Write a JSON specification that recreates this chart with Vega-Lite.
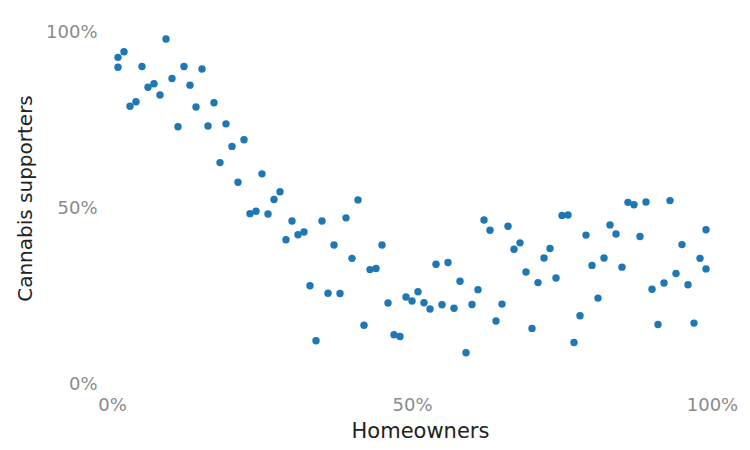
{
  "$schema": "https://vega.github.io/schema/vega-lite/v6.json",
  "width": 600,
  "height": 352,
  "autosize": "none",
  "padding": {"left": 112, "top": 32, "right": 38, "bottom": 66},
  "background": "white",
  "config": {
    "view": {"stroke": null},
    "font": "DejaVu Sans",
    "axis": {
      "grid": false,
      "domain": false,
      "ticks": false,
      "labelFlush": false,
      "labelFont": "DejaVu Sans",
      "labelFontSize": 18,
      "labelColor": "#8a8a8a",
      "titleFont": "DejaVu Sans",
      "titleFontSize": 20,
      "titleFontWeight": "normal",
      "titleColor": "#222222"
    }
  },
  "data": {
    "values": [
      {"homeowners": 0.01, "supporters": 0.928},
      {"homeowners": 0.01, "supporters": 0.900},
      {"homeowners": 0.02, "supporters": 0.944},
      {"homeowners": 0.03, "supporters": 0.789},
      {"homeowners": 0.04, "supporters": 0.802},
      {"homeowners": 0.05, "supporters": 0.902},
      {"homeowners": 0.06, "supporters": 0.843},
      {"homeowners": 0.07, "supporters": 0.853},
      {"homeowners": 0.08, "supporters": 0.821},
      {"homeowners": 0.09, "supporters": 0.980},
      {"homeowners": 0.10, "supporters": 0.868},
      {"homeowners": 0.11, "supporters": 0.731},
      {"homeowners": 0.12, "supporters": 0.902},
      {"homeowners": 0.13, "supporters": 0.849},
      {"homeowners": 0.14, "supporters": 0.787},
      {"homeowners": 0.15, "supporters": 0.895},
      {"homeowners": 0.16, "supporters": 0.733},
      {"homeowners": 0.17, "supporters": 0.799},
      {"homeowners": 0.18, "supporters": 0.629},
      {"homeowners": 0.19, "supporters": 0.739},
      {"homeowners": 0.20, "supporters": 0.675},
      {"homeowners": 0.21, "supporters": 0.573},
      {"homeowners": 0.22, "supporters": 0.694},
      {"homeowners": 0.23, "supporters": 0.484},
      {"homeowners": 0.24, "supporters": 0.491},
      {"homeowners": 0.25, "supporters": 0.597},
      {"homeowners": 0.26, "supporters": 0.483},
      {"homeowners": 0.27, "supporters": 0.524},
      {"homeowners": 0.28, "supporters": 0.546},
      {"homeowners": 0.29, "supporters": 0.410},
      {"homeowners": 0.30, "supporters": 0.463},
      {"homeowners": 0.31, "supporters": 0.424},
      {"homeowners": 0.32, "supporters": 0.432},
      {"homeowners": 0.33, "supporters": 0.279},
      {"homeowners": 0.34, "supporters": 0.123},
      {"homeowners": 0.35, "supporters": 0.463},
      {"homeowners": 0.36, "supporters": 0.258},
      {"homeowners": 0.37, "supporters": 0.395},
      {"homeowners": 0.38, "supporters": 0.257},
      {"homeowners": 0.39, "supporters": 0.472},
      {"homeowners": 0.40, "supporters": 0.357},
      {"homeowners": 0.41, "supporters": 0.523},
      {"homeowners": 0.42, "supporters": 0.167},
      {"homeowners": 0.43, "supporters": 0.325},
      {"homeowners": 0.44, "supporters": 0.328},
      {"homeowners": 0.45, "supporters": 0.395},
      {"homeowners": 0.46, "supporters": 0.230},
      {"homeowners": 0.47, "supporters": 0.140},
      {"homeowners": 0.48, "supporters": 0.135},
      {"homeowners": 0.49, "supporters": 0.247},
      {"homeowners": 0.50, "supporters": 0.236},
      {"homeowners": 0.51, "supporters": 0.262},
      {"homeowners": 0.52, "supporters": 0.231},
      {"homeowners": 0.53, "supporters": 0.213},
      {"homeowners": 0.54, "supporters": 0.340},
      {"homeowners": 0.55, "supporters": 0.225},
      {"homeowners": 0.56, "supporters": 0.345},
      {"homeowners": 0.57, "supporters": 0.215},
      {"homeowners": 0.58, "supporters": 0.292},
      {"homeowners": 0.59, "supporters": 0.089},
      {"homeowners": 0.60, "supporters": 0.226},
      {"homeowners": 0.61, "supporters": 0.268},
      {"homeowners": 0.62, "supporters": 0.466},
      {"homeowners": 0.63, "supporters": 0.437},
      {"homeowners": 0.64, "supporters": 0.179},
      {"homeowners": 0.65, "supporters": 0.227},
      {"homeowners": 0.66, "supporters": 0.448},
      {"homeowners": 0.67, "supporters": 0.383},
      {"homeowners": 0.68, "supporters": 0.401},
      {"homeowners": 0.69, "supporters": 0.318},
      {"homeowners": 0.70, "supporters": 0.158},
      {"homeowners": 0.71, "supporters": 0.288},
      {"homeowners": 0.72, "supporters": 0.358},
      {"homeowners": 0.73, "supporters": 0.385},
      {"homeowners": 0.74, "supporters": 0.301},
      {"homeowners": 0.75, "supporters": 0.479},
      {"homeowners": 0.76, "supporters": 0.480},
      {"homeowners": 0.77, "supporters": 0.118},
      {"homeowners": 0.78, "supporters": 0.194},
      {"homeowners": 0.79, "supporters": 0.423},
      {"homeowners": 0.80, "supporters": 0.337},
      {"homeowners": 0.81, "supporters": 0.244},
      {"homeowners": 0.82, "supporters": 0.358},
      {"homeowners": 0.83, "supporters": 0.452},
      {"homeowners": 0.84, "supporters": 0.426},
      {"homeowners": 0.85, "supporters": 0.332},
      {"homeowners": 0.86, "supporters": 0.516},
      {"homeowners": 0.87, "supporters": 0.509},
      {"homeowners": 0.88, "supporters": 0.419},
      {"homeowners": 0.89, "supporters": 0.517},
      {"homeowners": 0.90, "supporters": 0.269},
      {"homeowners": 0.91, "supporters": 0.169},
      {"homeowners": 0.92, "supporters": 0.287},
      {"homeowners": 0.93, "supporters": 0.521},
      {"homeowners": 0.94, "supporters": 0.314},
      {"homeowners": 0.95, "supporters": 0.396},
      {"homeowners": 0.96, "supporters": 0.282},
      {"homeowners": 0.97, "supporters": 0.173},
      {"homeowners": 0.98, "supporters": 0.357},
      {"homeowners": 0.99, "supporters": 0.327},
      {"homeowners": 0.99, "supporters": 0.438}
    ]
  },
  "mark": {"type": "circle", "size": 55, "color": "#1f77b4", "opacity": 1},
  "encoding": {
    "x": {
      "field": "homeowners",
      "type": "quantitative",
      "scale": {"domain": [0, 1], "nice": false, "zero": false},
      "axis": {
        "title": "Homeowners",
        "values": [0, 0.5, 1],
        "format": ".0%",
        "labelPadding": 12,
        "titlePadding": 6,
        "titleFontSize": 21,
        "titleX": 308
      }
    },
    "y": {
      "field": "supporters",
      "type": "quantitative",
      "scale": {"domain": [0, 1], "nice": false, "zero": false},
      "axis": {
        "title": "Cannabis supporters",
        "values": [0, 0.5, 1],
        "format": ".0%",
        "labelPadding": 15,
        "titlePadding": 10,
        "titleY": 166
      }
    }
  }
}
